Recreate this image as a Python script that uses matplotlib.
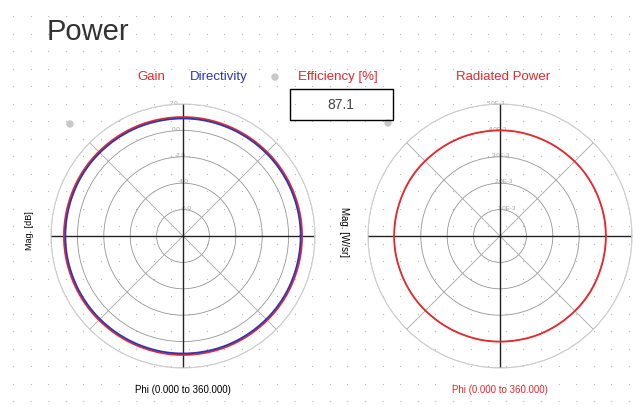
import numpy as np
import matplotlib.pyplot as plt
from matplotlib.patches import Rectangle, Circle

# far-field cut, phi sweep 0..360 deg in 10 deg steps
phi_deg = list(range(0, 361, 10))
gain_db = [1.02, 1.02, 1.01, 1.01, 1.01, 1.00, 1.00, 1.00, 1.01, 1.01,
           1.01, 1.02, 1.02, 1.02, 1.03, 1.03, 1.02, 1.02, 1.02, 1.02,
           1.01, 1.01, 1.01, 1.00, 1.00, 1.00, 1.01, 1.01, 1.01, 1.02,
           1.02, 1.02, 1.03, 1.03, 1.02, 1.02, 1.02]
directivity_db = [0.91, 0.91, 0.90, 0.90, 0.90, 0.89, 0.89, 0.89, 0.90, 0.90,
                  0.90, 0.91, 0.91, 0.91, 0.92, 0.92, 0.91, 0.91, 0.91, 0.91,
                  0.90, 0.90, 0.90, 0.89, 0.89, 0.89, 0.90, 0.90, 0.90, 0.91,
                  0.91, 0.91, 0.92, 0.92, 0.91, 0.91, 0.91]
rad_power = [4.01e-3, 4.01e-3, 4.00e-3, 4.00e-3, 4.00e-3, 3.99e-3, 3.99e-3, 3.99e-3,
             4.00e-3, 4.00e-3, 4.00e-3, 4.01e-3, 4.01e-3, 4.01e-3, 4.02e-3, 4.02e-3,
             4.01e-3, 4.01e-3, 4.01e-3, 4.01e-3, 4.00e-3, 4.00e-3, 4.00e-3, 3.99e-3,
             3.99e-3, 3.99e-3, 4.00e-3, 4.00e-3, 4.00e-3, 4.01e-3, 4.01e-3, 4.01e-3,
             4.02e-3, 4.02e-3, 4.01e-3, 4.01e-3, 4.01e-3]
efficiency = 87.1

db_rings = [-6, -4, -2, 0, 2]
db_labels = ['-6.0', '-4.0', '-2.0', '0.0', '2.0']
pw_rings = [1e-3, 2e-3, 3e-3, 4e-3, 5e-3]
pw_labels = ['1.0E-3', '2.0E-3', '3.0E-3', '4.0E-3', '5.0E-3']

RED = '#e8262b'
BLUE = '#2b35b8'
W, H = 642, 406

plt.rcParams['font.family'] = ['Liberation Sans', 'DejaVu Sans']
fig = plt.figure(figsize=(W / 100, H / 100), dpi=100)

# dotted page grid behind everything
bg = fig.add_axes([0, 0, 1, 1])
bg.set_xlim(0, W)
bg.set_ylim(H, 0)
bg.axis('off')
gx, gy = np.meshgrid(np.arange(13, W, 17.6), np.arange(17, H, 17.5))
bg.scatter(gx.ravel(), gy.ravel(), s=0.8, color='#b8b8b8', lw=0)

bg.text(47, 32, 'Power', fontsize=21, color='#333333', va='center')
bg.text(137, 77, 'Gain', fontsize=9.5, color=RED, va='center')
bg.text(190, 77, 'Directivity', fontsize=9.5, color=BLUE, va='center')
bg.text(298, 77, 'Efficiency [%]', fontsize=9.5, color=RED, va='center')
bg.text(503, 77, 'Radiated Power', fontsize=9.5, color=RED, va='center', ha='center')
for cx, cy in [(275, 78), (70, 125), (388, 124)]:
    bg.add_patch(Circle((cx, cy), 3, color='#c8c8c8'))
bg.add_patch(Rectangle((290, 90), 103, 31, fill=False, ec='black', lw=1.0))
bg.text(341, 105, '%.1f' % efficiency, fontsize=10, color='#444444', ha='center', va='center')

bg.text(30, 231, 'Mag. [dB]', fontsize=6.5, rotation=90, ha='center', va='center')
bg.text(344, 232, 'Mag. [W/sr]', fontsize=7, rotation=270, ha='center', va='center')
bg.text(183, 390, 'Phi (0.000 to 360.000)', fontsize=7, ha='center', va='center')
bg.text(500, 390, 'Phi (0.000 to 360.000)', fontsize=7, color=RED, ha='center', va='center')


def polar_frame(ax, rmin, rmax, rings, labels):
    ax.set_facecolor('none')
    ax.set_ylim(rmin, rmax)
    ax.set_rgrids(rings, labels, angle=96, fontsize=4.5, color='#a0a0a0')
    ax.set_thetagrids([])
    ax.grid(True, color='#959595', lw=0.6)
    ax.spines['polar'].set_color('#d0d0d0')
    ax.spines['polar'].set_linewidth(0.8)
    for a in [45, 135, 225, 315]:
        ax.plot([np.deg2rad(a)] * 2, [rmin, rmax], color='#a5a5a5', lw=0.6)
    for a in [0, 90, 180, 270]:
        ax.plot([np.deg2rad(a)] * 2, [rmin, rmax], color='#222222', lw=1.0)


def trace(ax, r, color):
    ln, = ax.plot(theta, r, color=color, lw=1.3)
    # draw each segment as an arc instead of a chord
    ln.get_path()._interpolation_steps = 16
    return ln


theta = np.deg2rad(phi_deg)

ax1 = fig.add_axes([51 / W, 1 - 369 / H, 264 / W, 264 / H], projection='polar')
polar_frame(ax1, -8, 2, db_rings, db_labels)
trace(ax1, gain_db, RED)
trace(ax1, directivity_db, BLUE)

ax2 = fig.add_axes([368 / W, 1 - 369 / H, 264 / W, 264 / H], projection='polar')
polar_frame(ax2, 0, 5e-3, pw_rings, pw_labels)
trace(ax2, rad_power, RED)

fig.savefig('out.png', dpi=100)
